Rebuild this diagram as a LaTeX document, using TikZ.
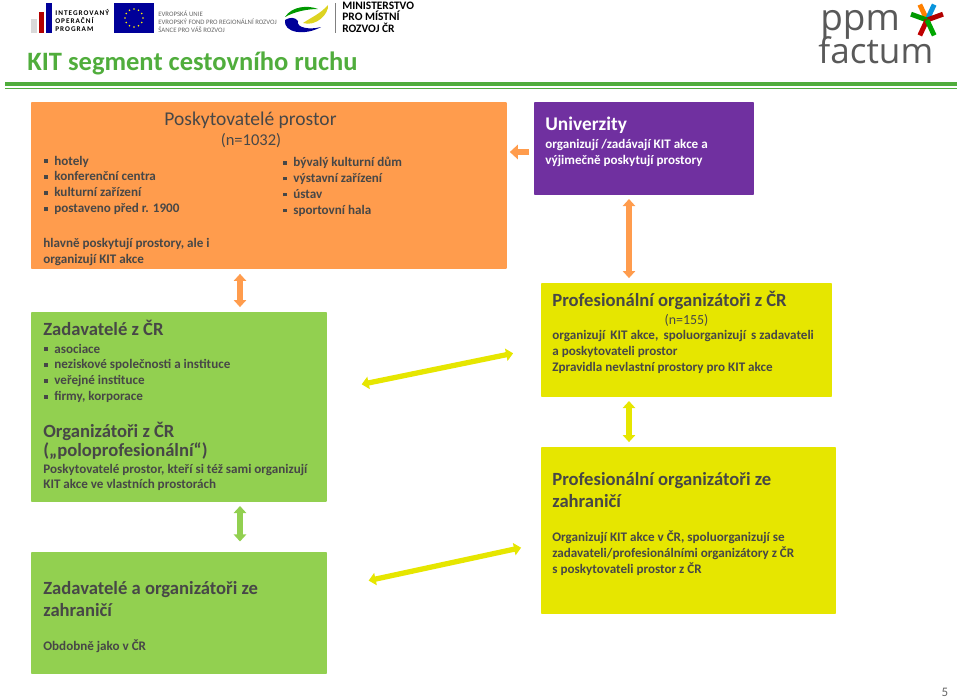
\documentclass[tikz,border=0pt]{standalone}
\usepackage{fontspec}
\setmainfont{Carlito}
\newfontfamily\logofont{Open Sans}
\usetikzlibrary{arrows.meta}
\definecolor{orangebox}{HTML}{FF9C4D}
\definecolor{purplebox}{HTML}{7030A0}
\definecolor{greenbox}{HTML}{92D050}
\definecolor{yellowbox}{HTML}{E6E600}
\definecolor{darktext}{HTML}{474747}
\definecolor{titlegreen}{HTML}{50AD3C}
\newcommand{\blt}{\makebox[5.69pt][l]{\rule[1.3pt]{2pt}{2pt}}}
\begin{document}
\begin{tikzpicture}[
        x=0.02cm, y=-0.02cm,
        box/.style={rectangle, anchor=north west, inner sep=0pt, outer sep=0pt, rounded corners=0.5pt},
        heading/.style={anchor=north west, inner sep=0pt, align=left, text=darktext, font=\fontsize{10.6}{12.8}\selectfont\bfseries},
        body/.style={anchor=north west, inner sep=0pt, align=left, text=darktext, font=\fontsize{7.45}{9.07}\selectfont\bfseries},
        wide_arrow/.style={line width=3pt, {Triangle[width=7pt,length=4pt]}-{Triangle[width=7pt,length=4pt]}},
        logo_text/.style={anchor=north west, inner sep=0pt, align=left}
    ]
        \useasboundingbox (0,0) rectangle (960,698);

        % Logos
        \fill[black!15] (31,19) rectangle (37,33);
        \fill[red!70!black] (38.5,12) rectangle (44,33);
        \fill[blue!60!black] (46,3) rectangle (52,33);
        \node[logo_text, font=\fontsize{4.1}{4.5}\selectfont\bfseries\addfontfeature{LetterSpace=14}] (iop_text) at (55,9) {INTEGROVANÝ\\OPERAČNÍ\\PROGRAM};
        \fill[blue!60!black] (114,3) rectangle (154,33);
        \foreach \a in {0,30,...,330}
            \fill[yellow] (134,18) ++(\a:9) circle (0.9);
        \node[logo_text, text=black!60, font=\fontsize{3.85}{4.55}\selectfont] (eu_text) at (158,10.5) {EVROPSKÁ UNIE\\EVROPSKÝ FOND PRO REGIONÁLNÍ ROZVOJ\\ŠANCE PRO VÁŠ ROZVOJ};
        \fill[green!60!black] (285,17) .. controls (292,6) and (308,5) .. (318,9) .. controls (306,9) and (294,12) .. (285,17);
        \fill[yellow!85!black] (303,23) .. controls (312,17) and (320,14) .. (328,5) .. controls (329,14) and (316,27) .. (303,23);
        \fill[blue!60!black] (285,20) .. controls (283,33) and (305,36) .. (321,27) .. controls (310,30) and (296,28) .. (298,21) .. controls (295,17) and (290,17) .. (285,20);
        \fill[black!50] (334.5,3) rectangle (335.5,33);
        \node[logo_text, font=\fontsize{6.5}{6.5}\selectfont\bfseries] (mmr_text) at (342,1.5) {MINISTERSTVO\\PRO MÍSTNÍ\\ROZVOJ ČR};
        \node[anchor=base west, inner sep=0pt, text=black!65, font=\logofont\fontsize{21}{23}\selectfont] (ppm_text) at (820,30) {ppm};
        \node[anchor=base west, inner sep=0pt, text=black!65, font=\logofont\fontsize{20}{22}\selectfont] (factum_text) at (818,63) {factum};
        % Star of the logo
        \foreach \a/\c in {-115/orange, -65/cyan!80!blue, -20/red!70!black, -160/green!60!black, 115/red!75!black, 65/green!65!black}
            \draw[\c, line width=2.8pt] (927,20) -- ++(\a:17);

        % Title
        \node[anchor=west, inner sep=0pt, text=titlegreen, font=\fontsize{15.1}{18}\selectfont\bfseries] (title) at (27,63) {KIT segment cestovního ruchu};
        \fill[titlegreen] (4.5,82) rectangle (957,86);
        \fill[titlegreen] (4.5,87.5) rectangle (957,89);

        % Boxes
        \node[box, fill=orangebox, minimum width=476*0.569pt, minimum height=167*0.569pt] (prostor) at (31,102) {};
        \node[box, fill=purplebox, minimum width=220*0.569pt, minimum height=93*0.569pt] (univ) at (534,102) {};
        \node[box, fill=greenbox, minimum width=296*0.569pt, minimum height=190*0.569pt] (zadavatele) at (31,312) {};
        \node[box, fill=greenbox, minimum width=296*0.569pt, minimum height=122*0.569pt] (zahr_zad) at (31,552) {};
        \node[box, fill=yellowbox, minimum width=291*0.569pt, minimum height=114*0.569pt] (prof_cr) at (541,283) {};
        \node[box, fill=yellowbox, minimum width=295*0.569pt, minimum height=167*0.569pt] (prof_zahr) at (541,447) {};

        % Texts of the orange box
        \node[anchor=base, inner sep=0pt, text=darktext, font=\fontsize{11.1}{13}\selectfont] (prostor_title) at (250.5,125) {Poskytovatelé prostor};
        \node[anchor=base, inner sep=0pt, text=darktext, font=\fontsize{9.4}{11}\selectfont] (prostor_n) at (251,145) {(n=1032)};
        \node[body] (prostor_left) at (44,155.5) {\blt hotely\\\blt konferenční centra\\\blt kulturní zařízení\\\blt postaveno před r. 1900};
        \node[body] (prostor_right) at (283,157) {\blt bývalý kulturní dům\\\blt výstavní zařízení\\\blt ústav\\\blt sportovní hala};
        \node[body] (prostor_note) at (43,238) {hlavně poskytují prostory, ale i\\organizují KIT akce};

        % Texts of the purple box
        \node[heading, text=white, font=\fontsize{11}{13}\selectfont\bfseries] (univ_title) at (545,117) {Univerzity};
        \node[body, text=white] (univ_text) at (545,139) {organizují /zadávají KIT akce a\\výjimečně poskytují prostory};

        % Texts of the green boxes
        \node[heading] (zad_title) at (43,320) {Zadavatelé z ČR};
        \node[body] (zad_list) at (44,343.5) {\blt asociace\\\blt neziskové společnosti a instituce\\\blt veřejné instituce\\\blt firmy, korporace};
        \node[heading] (org_title) at (43,422) {Organizátoři z ČR};
        \node[heading] (org_sub) at (43,442.5) {(„poloprofesionální“)};
        \node[body] (org_text) at (43,463.5) {Poskytovatelé prostor, kteří si též sami organizují\\KIT akce ve vlastních prostorách};
        \node[heading] (zahr_title) at (43,581) {Zadavatelé a organizátoři ze\\zahraničí};
        \node[body] (zahr_text) at (43,639) {Obdobně jako v ČR};

        % Texts of the yellow boxes
        \node[heading] (prof_title) at (552,291) {Profesionální organizátoři z ČR};
        \node[anchor=base, inner sep=0pt, text=darktext, font=\fontsize{7.9}{9}\selectfont] (prof_n) at (686.5,324) {(n=155)};
        \node[body] (prof_text) at (552,330) {organizují\,{} KIT akce,\,{} spoluorganizují\,{} s zadavateli\\a poskytovateli prostor\\Zpravidla nevlastní prostory pro KIT akce};
        \node[heading] (pz_title) at (552,472) {Profesionální organizátoři ze\\zahraničí};
        \node[body] (pz_text) at (552,530.5) {Organizují KIT akce v ČR, spoluorganizují se\\zadavateli/profesionálními organizátory z ČR\\s poskytovateli prostor z ČR};

        % Arrows
        \coordinate (arrow_o) at (629,152);
        \coordinate (arrow_s) at (240,152);
        \draw[line width=3.6pt, orangebox, -{Triangle[width=8pt,length=4.5pt]}, shorten <=3pt, shorten >=1.7pt] (univ.west |- arrow_o) -- (prostor.east |- arrow_o);
        \draw[wide_arrow, orangebox, shorten <=2.3pt, shorten >=2.8pt] (arrow_o |- univ.south) -- (arrow_o |- prof_cr.north);
        \draw[wide_arrow, orangebox, shorten <=2.8pt, shorten >=2.8pt] (arrow_s |- prostor.south) -- (arrow_s |- zadavatele.north);
        \draw[wide_arrow, greenbox, shorten <=2.3pt, shorten >=6pt] (arrow_s |- zadavatele.south) -- (arrow_s |- zahr_zad.north);
        \draw[wide_arrow, yellowbox, shorten <=2.3pt, shorten >=2.8pt] (arrow_o |- prof_cr.south) -- (arrow_o |- prof_zahr.north);
        \draw[wide_arrow, yellowbox, shorten <=20.2pt, shorten >=16.2pt] (zadavatele.6.2) -- (prof_cr.183.3);
        \draw[wide_arrow, yellowbox, shorten <=24.3pt, shorten >=11.6pt] (zahr_zad.9.85) -- (prof_zahr.185.6);

        % Page number
        \node[anchor=base, inner sep=0pt, text=black!60, font=\fontsize{7.4}{9}\selectfont] (page_no) at (945,696) {5};
    \end{tikzpicture}
\end{document}
